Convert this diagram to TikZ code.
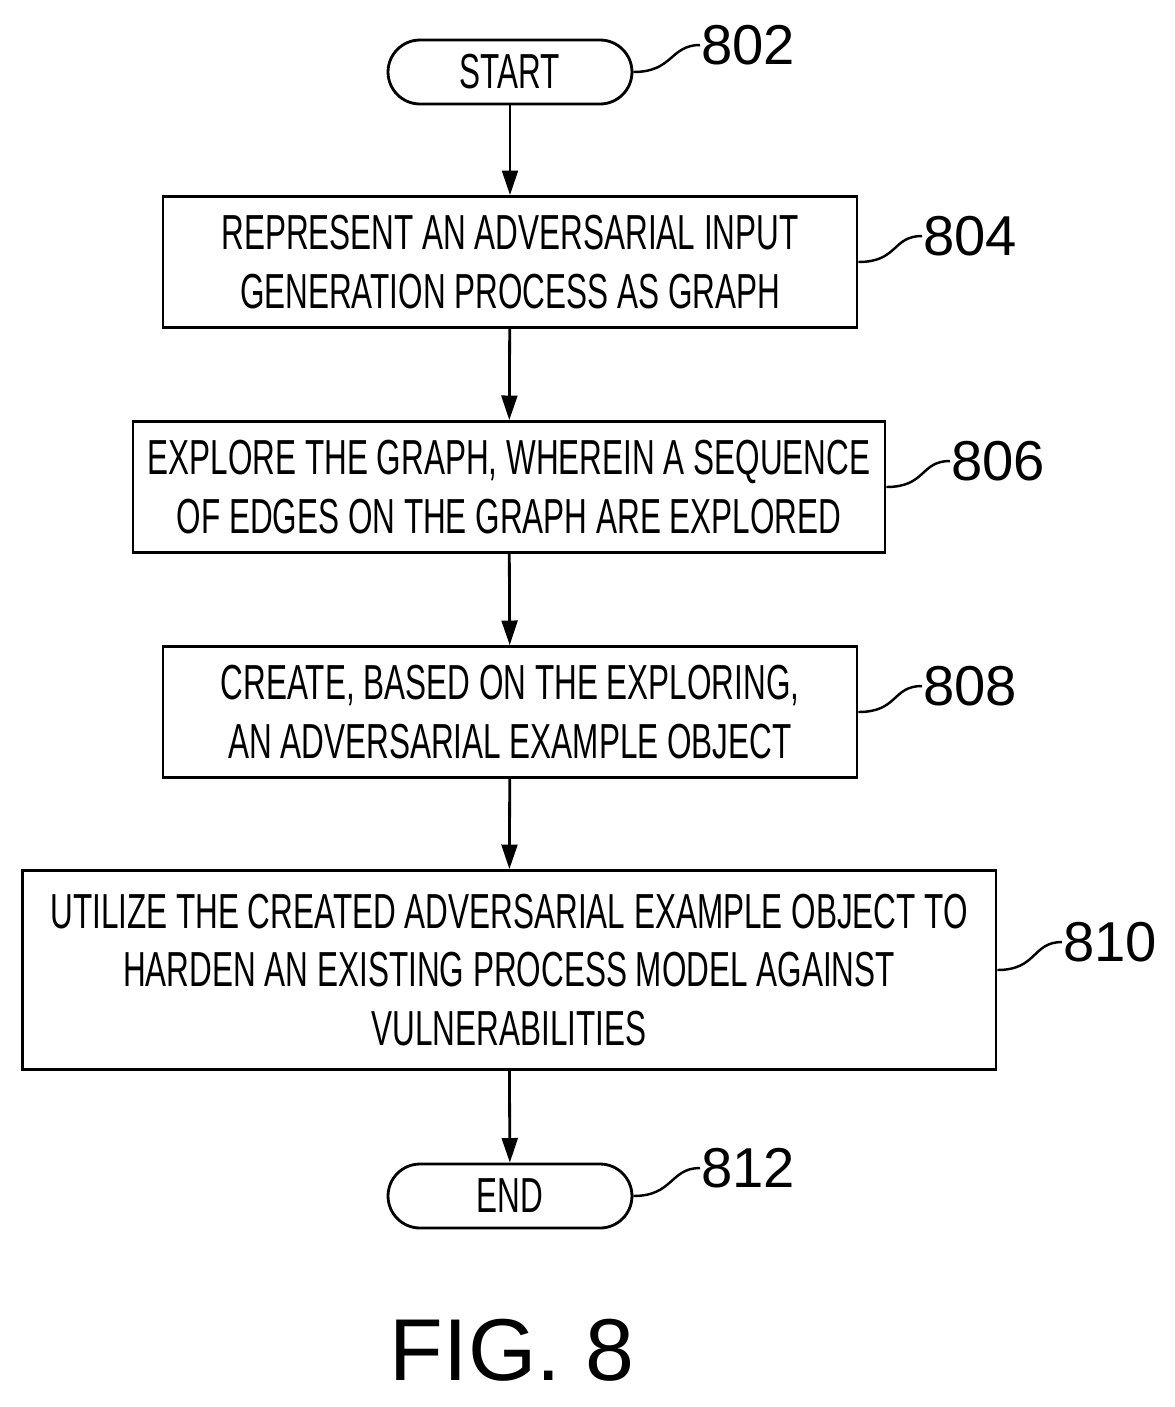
\documentclass[tikz,border=0pt]{standalone}
\usepackage{fontspec}
\setmainfont[FakeStretch=0.64]{Liberation Sans}
\newfontfamily\numfont{Liberation Sans}
\usetikzlibrary{arrows.meta}
\begin{document}
\begin{tikzpicture}[x=0.02cm,y=-0.02cm,>={Triangle[length=14pt,width=9pt]},
  line width=1.6pt,
  every node/.style={font=\fontsize{28}{33.5}\selectfont, inner sep=0pt},
  block/.style={draw, rectangle, align=center},
  term/.style={draw, rounded corners=0.64cm, minimum width=4.88cm, minimum height=1.28cm},
  numeral/.style={anchor=west, font=\numfont\fontsize{32}{32}\selectfont},
  lead/.style={line width=1.4pt}]
  \useasboundingbox (0,0) rectangle (1174,1407);

  % steps
  \node [term] (start) at (510,72) {START};
  \node [block, minimum width=13.88cm, minimum height=2.62cm] (represent) at (510,262)
    {REPRESENT AN ADVERSARIAL INPUT\\GENERATION PROCESS AS GRAPH};
  \node [block, minimum width=15.04cm, minimum height=2.62cm] (explore) at (509,487)
    {EXPLORE THE GRAPH, WHEREIN A SEQUENCE\\OF EDGES ON THE GRAPH ARE EXPLORED};
  \node [block, minimum width=13.88cm, minimum height=2.62cm] (create) at (510,712)
    {CREATE, BASED ON THE EXPLORING,\\AN ADVERSARIAL EXAMPLE OBJECT};
  \node [block, minimum width=19.48cm, minimum height=3.98cm] (utilize) at (509,970)
    {UTILIZE THE CREATED ADVERSARIAL EXAMPLE OBJECT TO\\HARDEN AN EXISTING PROCESS MODEL AGAINST\\VULNERABILITIES};
  \node [term] (end) at (510,1196) {END};

  % reference numerals
  \node [numeral] (l802) at (700,45) {802};
  \node [numeral] (l804) at (922,236) {804};
  \node [numeral] (l806) at (950,461) {806};
  \node [numeral] (l808) at (922,686) {808};
  \node [numeral] (l810) at (1062,942) {810};
  \node [numeral] (l812) at (700,1168) {812};

  \draw [lead] (start.east) .. controls +(40,0) and +(-30,0) .. (l802.west);
  \draw [lead] (represent.east) .. controls +(40,0) and +(-30,0) .. (l804.west);
  \draw [lead] (explore.east) .. controls +(40,0) and +(-30,0) .. (l806.west);
  \draw [lead] (create.east) .. controls +(40,0) and +(-30,0) .. (l808.west);
  \draw [lead] (utilize.east) .. controls +(40,0) and +(-30,0) .. (l810.west);
  \draw [lead] (end.east) .. controls +(40,0) and +(-30,0) .. (l812.west);

  \draw [->] (start) -- (represent);
  \draw [->] (represent) -- (explore);
  \draw [->] (explore) -- (create);
  \draw [->] (create) -- (utilize);
  \draw [->] (utilize) -- (end);

  \node [font=\numfont\fontsize{50}{50}\selectfont] (fig) at (512,1350) {FIG. 8};
\end{tikzpicture}
\end{document}
